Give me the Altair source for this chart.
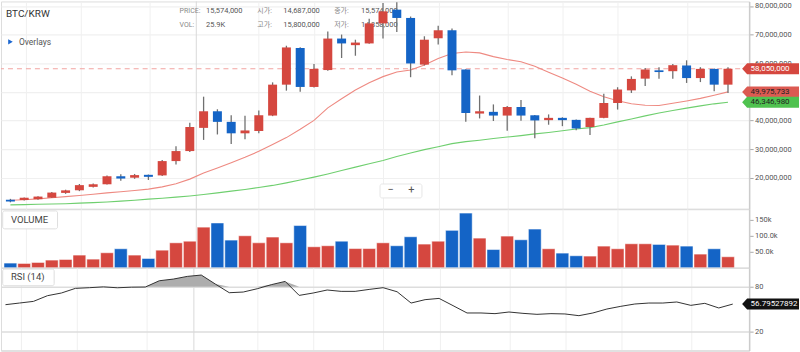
import altair as alt
import pandas as pd

FONT = "Roboto, 'Noto Sans CJK KR', sans-serif"
RED = "#d5473f"
BLUE = "#1464c6"

# weekly candles, prices in millions of KRW
opens = [12.3, 12.2, 12.5, 13.0, 14.687, 15.6, 16.8, 17.7, 20.5, 20.0, 21.0, 20.8, 25.8, 29.3,
         37.4, 43.2, 39.5, 35.5, 36.3, 41.7, 52.5, 65.3, 51.7, 57.6, 68.6, 66.3, 66.9, 73.9,
         78.7, 75.8, 59.5, 68.7, 71.5, 57.8, 42.4, 43.0, 41.7, 44.7, 41.8, 40.1, 40.9, 40.2,
         37.7, 40.9, 46.1, 50.5, 54.6, 57.5, 57.2, 59.2, 54.8, 58.0, 52.5]
highs = [12.6, 13.1, 13.5, 15.0, 15.8, 17.8, 18.0, 20.8, 21.2, 21.3, 21.1, 26.2, 31.0, 39.2,
         48.3, 43.9, 41.8, 41.6, 43.5, 53.3, 66.1, 65.6, 59.7, 71.1, 70.0, 68.2, 75.5, 81.0,
         81.3, 76.3, 69.4, 73.1, 72.1, 57.9, 48.7, 45.6, 45.0, 47.1, 41.9, 42.1, 41.1, 40.3,
         40.9, 49.3, 51.6, 55.4, 58.3, 58.6, 59.7, 61.0, 58.6, 58.1, 58.6]
lows = [11.4, 12.0, 12.3, 12.9, 14.358, 15.3, 16.6, 17.6, 18.9, 19.6, 19.2, 20.6, 24.6, 29.0,
        33.2, 35.1, 31.8, 33.4, 35.5, 41.5, 50.4, 50.0, 51.5, 57.4, 61.8, 62.6, 66.8, 68.6,
        70.9, 55.1, 59.2, 66.5, 55.8, 39.5, 40.7, 39.8, 36.4, 39.9, 33.8, 38.5, 38.0, 36.6,
        34.9, 40.8, 43.8, 49.6, 52.0, 54.6, 54.6, 53.1, 53.4, 50.2, 49.6]
closes = [11.7, 13.0, 13.4, 14.8, 15.574, 17.4, 17.7, 20.5, 19.7, 20.9, 20.3, 25.8, 29.3, 37.7,
          43.2, 39.5, 35.5, 36.5, 41.8, 52.5, 65.5, 51.7, 58.0, 68.6, 66.9, 67.2, 73.9, 78.1,
          75.8, 59.9, 68.2, 71.5, 57.5, 42.6, 43.2, 41.7, 44.7, 41.7, 40.0, 40.9, 40.1, 37.2,
          40.9, 46.1, 50.8, 54.5, 57.8, 56.9, 59.3, 54.8, 58.0, 52.5, 58.05]
# volume in thousands
volumes = [14.6, 13.5, 16.6, 24.0, 25.9, 39.6, 27.0, 46.9, 59.4, 39.6, 29.0, 55.0, 78.0, 83.0,
           127.0, 140.0, 86.5, 100.0, 78.0, 96.0, 78.0, 132.0, 65.6, 68.8, 83.0, 60.0, 60.0, 78.0,
           68.8, 96.9, 74.0, 83.0, 117.0, 171.0, 92.7, 57.0, 99.0, 87.5, 121.0, 59.4, 45.8, 37.5,
           36.5, 67.7, 59.4, 75.0, 75.0, 72.9, 70.8, 67.7, 42.7, 59.4, 34.4]
# moving averages (millions)
ma_red = [12.1, 12.3, 12.6, 13.0, 13.4, 13.8, 14.2, 14.7, 15.1, 15.5, 16.0, 16.8, 17.9, 19.5,
          21.6, 23.4, 25.2, 27.1, 29.2, 31.6, 34.0, 36.9, 40.0, 44.4, 47.6, 50.6, 53.2, 55.3,
          56.9, 57.6, 59.4, 61.6, 63.4, 63.9, 63.6, 62.3, 61.3, 60.5, 58.9, 56.8, 54.8, 52.6,
          50.2, 48.3, 46.9, 45.8, 45.3, 45.2, 46.0, 46.8, 47.7, 48.8, 49.975733]
ma_green = [10.5, 10.6, 10.7, 10.8, 10.9, 11.1, 11.3, 11.5, 11.8, 12.1, 12.5, 12.8, 13.2, 13.6,
            14.1, 14.7, 15.3, 15.9, 16.6, 17.3, 18.2, 19.2, 20.2, 21.3, 22.5, 23.7, 24.9, 26.0,
            27.4, 28.6, 29.8, 30.8, 31.9, 32.6, 33.1, 33.7, 34.2, 34.7, 35.3, 35.8, 36.4, 37.0,
            37.5, 38.4, 39.5, 40.5, 41.6, 42.6, 43.5, 44.3, 45.1, 45.8, 46.34698]
rsi = [56.0, 58.2, 60.4, 68.0, 71.6, 77.8, 78.7, 79.8, 78.6, 79.4, 79.6, 88.0, 90.2, 93.8,
       95.6, 83.6, 72.0, 72.9, 77.3, 82.7, 87.1, 68.4, 71.6, 75.6, 73.8, 73.8, 76.4, 78.7,
       73.3, 58.2, 62.7, 64.4, 54.7, 44.9, 44.9, 44.0, 46.2, 44.4, 43.1, 44.0, 43.6, 41.3,
       44.9, 50.2, 53.8, 56.9, 58.2, 58.2, 59.6, 55.1, 57.8, 51.6, 56.79527892]

price_ticks = [20e6, 30e6, 40e6, 50e6, 60e6, 70e6, 80e6]
vol_ticks = [50000, 100000, 150000]
rsi_ticks = [20, 80]
grid_idx = [1.1, 5.1, 10.07, 18.0, 22.03, 27.02, 31.06, 36.06, 40.03, 44.02, 49.02]
year_idx = [13.47]
hover = 4  # candle shown in the header

n = len(closes)
df = pd.DataFrame({
    "i": list(range(n)),
    "open": [v * 1e6 for v in opens],
    "high": [v * 1e6 for v in highs],
    "low": [v * 1e6 for v in lows],
    "close": [v * 1e6 for v in closes],
    "vol": [v * 1000 for v in volumes],
    "ma1": [v * 1e6 for v in ma_red],
    "ma2": [v * 1e6 for v in ma_green],
    "rsi": rsi,
})
df["dir"] = ["up" if c >= o else "down" for o, c in zip(opens, closes)]
last = df.iloc[[-1]].reset_index(drop=True)
dummy = pd.DataFrame({"d": [0]})
years = pd.DataFrame({"i": year_idx})

xs = alt.Scale(domain=[-0.32, 53.17], nice=False, zero=False)
xaxis = alt.Axis(values=grid_idx, grid=True, gridColor="#f0f0f0", gridWidth=1, labels=False,
                 ticks=False, domain=True, domainColor="#dddddd", domainWidth=1.5,
                 title=None, orient="bottom", zindex=0)
X = alt.X("i:Q", scale=xs, axis=xaxis)
color = alt.Color("dir:N", scale=alt.Scale(domain=["up", "down"], range=[RED, BLUE]), legend=None)

def yaxis(values, **kw):
    return alt.Axis(orient="right", values=values, title=None, domainColor="#cccccc",
                    domainWidth=1.5, tickColor="#aaaaaa", tickSize=4, labelFontSize=7.5,
                    labelColor="#555555", labelPadding=1.5, labelFont=FONT, zindex=0, **kw)

ys_p = alt.Scale(domain=[9.09e6, 81.57e6], nice=False, zero=False)
ax_p = yaxis(price_ticks, format=",.0f", grid=True, gridColor="#f0f0f0", gridWidth=1.2)
def Yp(f):
    return alt.Y(f"{f}:Q", scale=ys_p, axis=ax_p)

ys_v = alt.Scale(domain=[0, 184000], nice=False, zero=False)
ax_v = yaxis(vol_ticks, grid=False,
             labelExpr="datum.value == 150000 ? '150k' : format(datum.value / 1000, '.1f') + 'k'")
def Yv(f):
    return alt.Y(f"{f}:Q", scale=ys_v, axis=ax_v)

ys_r = alt.Scale(domain=[-5.33, 105.33], nice=False, zero=False)
ax_r = yaxis(rsi_ticks, grid=True, gridColor="#dddddd", gridWidth=1.5)
def Yr(f):
    return alt.Y(f"{f}:Q", scale=ys_r, axis=ax_r)

def label(s, x, y, size=7.5, col="#666666", align="left", weight="normal"):
    return alt.Chart(dummy).mark_text(text=s, align=align, baseline="middle", fontSize=size,
                                      color=col, font=FONT, fontWeight=weight).encode(
        x=alt.value(x), y=alt.value(y))

def box(x1, x2, y1, y2, fill="white", stroke="#dedede"):
    return alt.Chart(dummy).mark_rect(fill=fill, stroke=stroke, strokeWidth=1, cornerRadius=2).encode(
        x=alt.value(x1), x2=alt.value(x2), y=alt.value(y1), y2=alt.value(y2))

BADGE = "M -5 0 L 0 -5.5 L 52 -5.5 L 52 5.5 L 0 5.5 Z"
def badge(field, yfn, fill, tcol, fmt):
    pt = alt.Chart(last).mark_point(shape=BADGE, size=4, filled=True, fill=fill, color=fill,
                                    opacity=1, strokeWidth=0).encode(x=alt.value(748), y=yfn(field))
    tx = alt.Chart(last).mark_text(align="left", baseline="middle", fontSize=8, color=tcol,
                                   font=FONT, limit=48).encode(
        x=alt.value(751.5), y=yfn(field), text=alt.Text(f"{field}:Q", format=fmt))
    return pt + tx

def krw(v):
    return f"{int(round(v * 1e6)):,}"

year_rule_p = alt.Chart(years).mark_rule(color="#d9d9d9", strokeWidth=1).encode(x=X)

# ---------- price pane ----------
header = [
    label("PRICE:", 179, 9.3, 7, "#888888"), label(krw(closes[hover]), 205.5, 9.3, 7.5, "#555555"),
    label("시가:", 257, 9.3, 7, "#888888"), label(krw(opens[hover]), 283, 9.3, 7.5, "#555555"),
    label("종가:", 334, 9.3, 7, "#888888"), label(krw(closes[hover]), 361, 9.3, 7.5, "#555555"),
    label("VOL:", 179, 23.3, 7, "#888888"), label(f"{volumes[hover]:.1f}K", 205.5, 23.3, 7.5, "#555555"),
    label("고가:", 257, 23.3, 7, "#888888"), label(krw(highs[hover]), 283, 23.3, 7.5, "#555555"),
    label("저가:", 334, 23.3, 7, "#888888"), label(krw(lows[hover]), 361, 23.3, 7.5, "#555555"),
]
title = label("BTC/KRW", 5, 13, 10, "#333333")
tri = alt.Chart(dummy).mark_point(shape="triangle-right", size=28, filled=True, color="#1a66d0",
                                  opacity=1).encode(x=alt.value(9.5), y=alt.value(40.5))
overlays = label("Overlays", 18, 41, 8.5, "#555555")

dash = alt.Chart(last).mark_rule(color="#f2a3a0", strokeDash=[5, 4], strokeWidth=1).encode(y=Yp("close"))
ma1 = alt.Chart(df).mark_line(color="#ee8a82", strokeWidth=1.1).encode(x=X, y=Yp("ma1"))
ma2 = alt.Chart(df).mark_line(color="#6fcf6f", strokeWidth=1.1).encode(x=X, y=Yp("ma2"))
wick = alt.Chart(df).mark_rule(color="#707070", strokeWidth=1.3).encode(x=X, y=Yp("low"), y2="high:Q")
body = alt.Chart(df).mark_bar(size=9).encode(x=X, y=Yp("open"), y2="close:Q", color=color)

zoom_btn = (box(380, 422, 183, 197, stroke="#e6e6e6")
            + label("−", 390.5, 189.5, 11, "#555555", "center")
            + label("+", 411.5, 189.5, 11, "#555555", "center"))

price = alt.layer(
    year_rule_p, *header, title, tri, overlays, dash, ma1, ma2, wick, body,
    badge("close", Yp, RED, "white", ",.0f"),
    badge("ma1", Yp, "#dc5a52", "#222222", ",.0f"),
    badge("ma2", Yp, "#4fc24f", "#222222", ",.0f"),
    zoom_btn,
).properties(width=750, height=208)

# ---------- volume pane ----------
vbars = alt.Chart(df).mark_bar(size=12.8, stroke="white", strokeWidth=0.8, strokeOpacity=0.6).encode(
    x=X, y=Yv("vol"), color=color)
year_rule_v = alt.Chart(years).mark_rule(color="#d9d9d9", strokeWidth=1).encode(x=X)
volume = alt.layer(
    year_rule_v, vbars,
    box(1.7, 56.7, 2, 20), label("VOLUME", 10, 11, 9.5, "#444444"),
).properties(width=750, height=59)

# ---------- RSI pane ----------
rsi_fill = alt.Chart(df).transform_calculate(top="max(datum.rsi, 80)").mark_area(
    color="#adadad", opacity=1).encode(x=X, y=Yr("top"), y2=alt.datum(80))
rsi_line = alt.Chart(df).mark_line(color="#333333", strokeWidth=1).encode(x=X, y=Yr("rsi"))
year_rule_r = alt.Chart(years).mark_rule(color="#d9d9d9", strokeWidth=1).encode(x=X)
rsi_pane = alt.layer(
    year_rule_r, rsi_fill, rsi_line,
    badge("rsi", Yr, "#111111", "white", ".8f"),
    box(1.7, 53.3, 1.3, 18), label("RSI (14)", 10, 9.7, 9.5, "#444444"),
).properties(width=750, height=83)

chart = alt.vconcat(price, volume, rsi_pane, spacing=0, bounds="flush").properties(
    padding=0
).configure_view(stroke=None).configure(font=FONT)

chart.save("out.html", embed_options={"renderer": "svg", "actions": False})
